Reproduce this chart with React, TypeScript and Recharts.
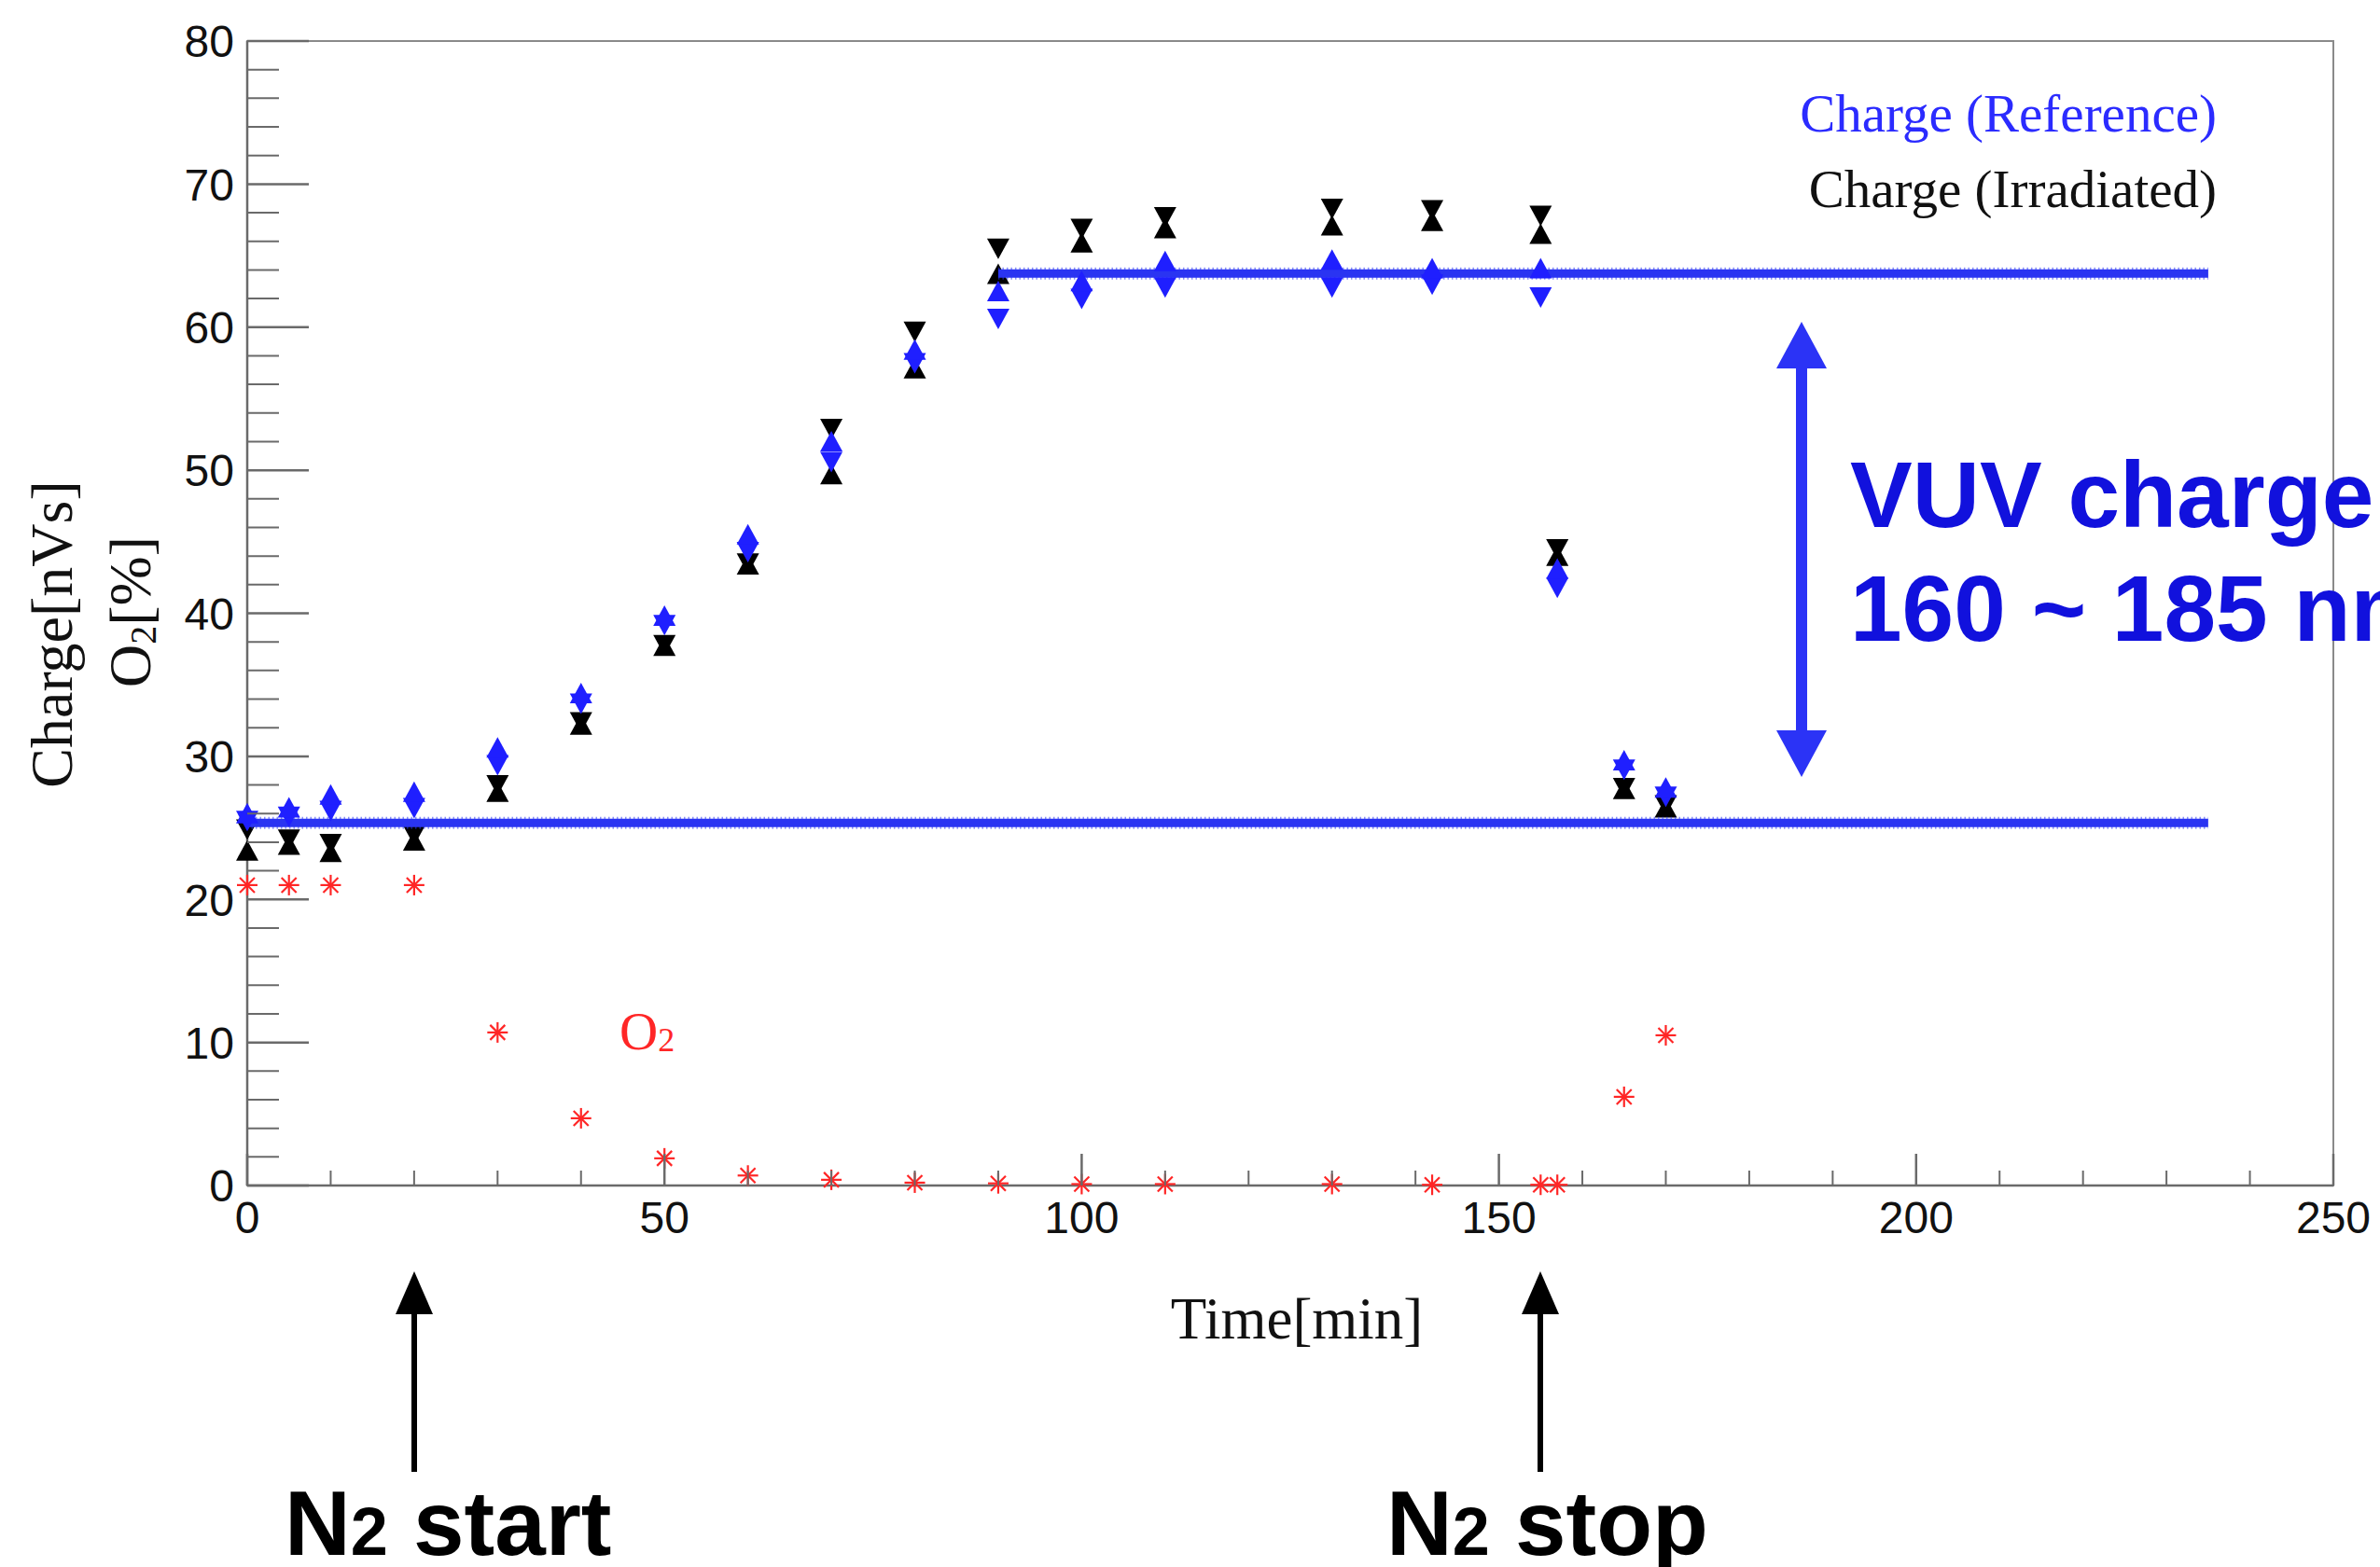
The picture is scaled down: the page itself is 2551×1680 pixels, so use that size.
import React from 'react';
import { ScatterChart, Scatter, XAxis, YAxis, ReferenceArea } from 'recharts';

// measurement times [min]
const TIMES = [0, 5, 10, 20, 30, 40, 50, 60, 70, 80, 90, 100, 110, 130, 142, 155, 157, 165, 170];

// charge of the reference PMT [nVs], two readings per time
const REF_UP = [25.9, 26.3, 27.2, 27.4, 30.5, 34.3, 39.7, 45.4, 51.9, 58.3, 62.4, 63.1, 64.5, 64.6, 64.0, 64.0, 43.0, 29.6, 27.7];
const REF_DOWN = [25.6, 25.9, 26.3, 26.5, 29.5, 33.8, 39.3, 44.4, 50.7, 57.6, 60.7, 62.1, 62.9, 62.9, 63.1, 62.2, 41.9, 29.2, 27.3];

// charge of the irradiated PMT [nVs]
const IRR_UP = [23.3, 23.7, 23.2, 24.0, 27.4, 32.1, 37.6, 43.3, 49.6, 57.0, 63.6, 65.8, 66.8, 67.0, 67.3, 66.4, 43.9, 27.6, 26.3];
const IRR_DOWN = [25.0, 24.3, 24.0, 24.6, 28.1, 32.5, 37.9, 43.6, 53.0, 59.8, 65.6, 67.0, 67.8, 68.4, 68.3, 67.9, 44.6, 27.9, 26.7];

// oxygen concentration [%]
const O2 = [21, 21, 21, 21, 10.7, 4.7, 1.9, 0.7, 0.4, 0.2, 0.15, 0.1, 0.1, 0.1, 0.05, 0.05, 0.05, 6.2, 10.5];

// reference charge levels (air / nitrogen)
const LEVEL_AIR = [{ t: 0, v: 25.35 }, { t: 235, v: 25.35 }];
const LEVEL_N2 = [{ t: 90, v: 63.75 }, { t: 235, v: 63.75 }];

const X_TICKS = [0, 10, 20, 30, 40, 50, 60, 70, 80, 90, 100, 110, 120, 130, 140, 150, 160, 170, 180, 190, 200, 210, 220, 230, 240, 250];
const X_LABELS = [0, 50, 100, 150, 200, 250];
const Y_TICKS = [0, 2, 4, 6, 8, 10, 12, 14, 16, 18, 20, 22, 24, 26, 28, 30, 32, 34, 36, 38, 40, 42, 44, 46, 48, 50, 52, 54, 56, 58, 60, 62, 64, 66, 68, 70, 72, 74, 76, 78, 80];
const Y_LABELS = [0, 10, 20, 30, 40, 50, 60, 70, 80];

const SANS = '"Liberation Sans", Arial, Helvetica, sans-serif';
const SERIF = '"Liberation Serif", "Times New Roman", Times, serif';
const AXIS_GREY = '#6a6a6a';
const REF_BLUE = '#1f1fff';
const BAND_BLUE = '#2a34f2';
const O2_RED = '#ff2626';

const toPoints = (vals: number[]) => TIMES.map((t, i) => ({ t, v: vals[i] }));

const TriUp = (color: string) => (p: any) => {
  const { cx, cy } = p;
  return <polygon points={`${cx},${cy - 13} ${cx - 12},${cy + 9} ${cx + 12},${cy + 9}`} fill={color} />;
};
const TriDown = (color: string) => (p: any) => {
  const { cx, cy } = p;
  return <polygon points={`${cx},${cy + 13} ${cx - 12},${cy - 9} ${cx + 12},${cy - 9}`} fill={color} />;
};
const Asterisk = (p: any) => {
  const { cx, cy } = p;
  const r = 11;
  const d = 8;
  return (
    <g stroke={O2_RED} strokeWidth={2.2}>
      <line x1={cx} y1={cy - r} x2={cx} y2={cy + r} />
      <line x1={cx - r} y1={cy} x2={cx + r} y2={cy} />
      <line x1={cx - d} y1={cy - d} x2={cx + d} y2={cy + d} />
      <line x1={cx - d} y1={cy + d} x2={cx + d} y2={cy - d} />
    </g>
  );
};
const NoDot = () => <g />;

const XTick = (props: any) => {
  const { x, y, payload } = props;
  const major = X_LABELS.includes(payload.value);
  return (
    <g>
      <line x1={x} x2={x} y1={y} y2={y - (major ? 34 : 16)} stroke={AXIS_GREY} strokeWidth={major ? 2.5 : 2} />
      {major && (
        <text x={x} y={y + 51} textAnchor="middle" fontFamily={SANS} fontSize={48} fill="#111">
          {payload.value}
        </text>
      )}
    </g>
  );
};

const YTick = (props: any) => {
  const { x, y, payload } = props;
  const major = Y_LABELS.includes(payload.value);
  return (
    <g>
      <line x1={x} x2={x + (major ? 66 : 34)} y1={y} y2={y} stroke={AXIS_GREY} strokeWidth={major ? 2.5 : 2} />
      {major && (
        <text x={x - 14} y={y} dy="0.36em" textAnchor="end" fontFamily={SANS} fontSize={48} fill="#111">
          {payload.value}
        </text>
      )}
    </g>
  );
};

function UpArrow({ x, tip, tail }: { x: number; tip: number; tail: number }) {
  return (
    <g fill="#000" stroke="#000">
      <line x1={x} x2={x} y1={tip + 40} y2={tail} strokeWidth={6} />
      <polygon points={`${x},${tip} ${x - 20},${tip + 46} ${x + 20},${tip + 46}`} stroke="none" />
    </g>
  );
}

export default function App() {
  return (
    <div style={{ position: 'absolute', left: 0, top: 0, width: 2551, height: 1680, background: '#fff', overflow: 'hidden' }}>
      <ScatterChart width={2551} height={1680} margin={{ top: 44, right: 50, bottom: 349, left: 165 }}>
        <XAxis
          type="number"
          dataKey="t"
          domain={[0, 250]}
          ticks={X_TICKS}
          interval={0}
          tickSize={0}
          tickMargin={0}
          tickLine={false}
          tick={<XTick />}
          height={60}
          axisLine={{ stroke: AXIS_GREY, strokeWidth: 2.5 }}
        />
        <YAxis
          type="number"
          dataKey="v"
          domain={[0, 80]}
          ticks={Y_TICKS}
          interval={0}
          tickSize={0}
          tickMargin={0}
          tickLine={false}
          tick={<YTick />}
          width={100}
          axisLine={{ stroke: AXIS_GREY, strokeWidth: 2.5 }}
        />
        <ReferenceArea x1={0} x2={250} y1={0} y2={80} fill="none" stroke="#8a8a8a" strokeWidth={2} />

        <Scatter name="Charge (Irradiated)" data={toPoints(IRR_DOWN)} shape={TriDown('#000')} isAnimationActive={false} />
        <Scatter name="Charge (Irradiated)" data={toPoints(IRR_UP)} shape={TriUp('#000')} isAnimationActive={false} />

        <Scatter data={LEVEL_AIR} line={{ stroke: BAND_BLUE, strokeWidth: 13, strokeDasharray: '1.5 3', strokeOpacity: 0.55 }} shape={NoDot} isAnimationActive={false} />
        <Scatter data={LEVEL_AIR} line={{ stroke: BAND_BLUE, strokeWidth: 9 }} shape={NoDot} isAnimationActive={false} />
        <Scatter data={LEVEL_N2} line={{ stroke: BAND_BLUE, strokeWidth: 13, strokeDasharray: '1.5 3', strokeOpacity: 0.55 }} shape={NoDot} isAnimationActive={false} />
        <Scatter data={LEVEL_N2} line={{ stroke: BAND_BLUE, strokeWidth: 9 }} shape={NoDot} isAnimationActive={false} />

        <Scatter name="Charge (Reference)" data={toPoints(REF_DOWN)} shape={TriDown(REF_BLUE)} isAnimationActive={false} />
        <Scatter name="Charge (Reference)" data={toPoints(REF_UP)} shape={TriUp(REF_BLUE)} isAnimationActive={false} />

        <Scatter name="O2" data={toPoints(O2)} shape={Asterisk} isAnimationActive={false} />
      </ScatterChart>

      <svg width={2551} height={1680} style={{ position: 'absolute', left: 0, top: 0, pointerEvents: 'none' }}>
        {/* axis titles */}
        <text transform="translate(77,680) rotate(-90)" textAnchor="middle" fontFamily={SERIF} fontSize={64} fill="#111">
          Charge[nVs]
        </text>
        <text transform="translate(161,656) rotate(-90)" textAnchor="middle" fontFamily={SERIF} fontSize={64} fill="#111">
          O<tspan fontSize={40} dy={6}>2</tspan>
          <tspan dy={-6}>[%]</tspan>
        </text>
        <text x={1390} y={1435} textAnchor="middle" fontFamily={SERIF} fontSize={63} fill="#111">
          Time[min]
        </text>

        {/* legend */}
        <text x={2376} y={141} textAnchor="end" fontFamily={SERIF} fontSize={57} fill="#2b2bff">
          Charge (Reference)
        </text>
        <text x={2376} y={222} textAnchor="end" fontFamily={SERIF} fontSize={57} fill="#111">
          Charge (Irradiated)
        </text>
        <text x={664} y={1125} fontFamily={SERIF} fontSize={57} fill={O2_RED}>
          O<tspan fontSize={36} dy={2}>2</tspan>
        </text>

        {/* VUV charge difference */}
        <g fill="#2b33f6">
          <rect x={1925} y={390} width={12} height={396} />
          <polygon points="1931,345 1904,395 1958,395" />
          <polygon points="1931,833 1904,783 1958,783" />
        </g>
        <text x={1983} y={565} fontFamily={SANS} fontWeight={700} fontSize={100} fill="#1111dd">
          VUV charge
        </text>
        <text x={1983} y={687} fontFamily={SANS} fontWeight={700} fontSize={100} fill="#1111dd">
          160 ~ 185 nm
        </text>

        {/* nitrogen flow markers */}
        <UpArrow x={444} tip={1363} tail={1578} />
        <UpArrow x={1651} tip={1363} tail={1578} />
        <text x={305} y={1667} fontFamily={SANS} fontWeight={700} fontSize={98} fill="#000">
          N<tspan fontSize={72}>2</tspan> start
        </text>
        <text x={1486} y={1667} fontFamily={SANS} fontWeight={700} fontSize={98} fill="#000">
          N<tspan fontSize={72}>2</tspan> stop
        </text>
      </svg>
    </div>
  );
}
